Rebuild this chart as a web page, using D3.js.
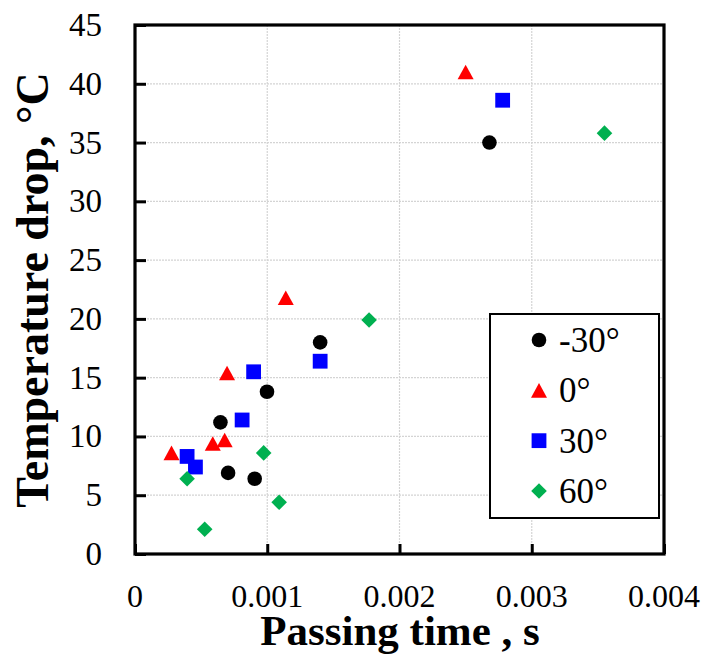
<!DOCTYPE html>
<html>
<head>
<meta charset="utf-8">
<script src="https://cdn.jsdelivr.net/npm/d3@7"></script>
<style>
  html, body { margin: 0; padding: 0; background: #fff; }
  svg { display: block; }
</style>
</head>
<body>
<svg id="chart" width="710" height="658"></svg>
<script>
// ---- Data ----
const seriesNames = ["-30°", "0°", "30°", "60°"];
const seriesColors = ["#000000", "#ff0000", "#0000ff", "#00b050"];
const seriesShapes = ["circle", "triangle", "square", "diamond"];

const timeM30 = [0.000646, 0.000704, 0.000905, 0.000998, 0.00140, 0.00268];
const dropM30 = [11.2, 6.9, 6.4, 13.8, 18.0, 35.0];

const time0 = [0.000276, 0.000588, 0.000678, 0.000696, 0.00114, 0.00250];
const drop0 = [8.6, 9.4, 9.7, 15.4, 21.8, 41.0];

const time30 = [0.000394, 0.000457, 0.000810, 0.000897, 0.00140, 0.00278];
const drop30 = [8.3, 7.4, 11.4, 15.5, 16.4, 38.6];

const time60 = [0.000394, 0.000527, 0.000973, 0.00109, 0.00177, 0.00355];
const drop60 = [6.4, 2.1, 8.6, 4.4, 19.9, 35.8];

const xTicks = [0, 0.001, 0.002, 0.003, 0.004];
const xTickLabels = ["0", "0.001", "0.002", "0.003", "0.004"];
const yTicks = [0, 5, 10, 15, 20, 25, 30, 35, 40, 45];

const xTitle = "Passing time , s";
const yTitle = "Temperature drop, °C";

const FONT = "'Liberation Serif', 'Times New Roman', Times, serif";

// ---- Build series table ----
const seriesTimes = [timeM30, time0, time30, time60];
const seriesDrops = [dropM30, drop0, drop30, drop60];
const series = seriesNames.map((name, i) => ({
  name, color: seriesColors[i], shape: seriesShapes[i],
  points: seriesTimes[i].map((t, j) => ({ t, d: seriesDrops[i][j] }))
}));

// ---- Layout ----
const svg = d3.select("#chart");
const L = 135, R = 664, T = 25, B = 554;

const x = d3.scaleLinear().domain([0, 0.004]).range([L, R]);
const y = d3.scaleLinear().domain([0, 45]).range([B, T]);

// Gridlines
const grid = svg.append("g");
grid.selectAll("line.gx").data(xTicks.slice(1, -1)).join("line")
  .attr("x1", d => x(d)).attr("x2", d => x(d))
  .attr("y1", T).attr("y2", B)
  .attr("stroke", "#d4d4d4").attr("stroke-width", 1.2)
  .attr("stroke-dasharray", "2,1");
grid.selectAll("line.gy").data(yTicks.slice(1, -1)).join("line")
  .attr("x1", L).attr("x2", R)
  .attr("y1", d => y(d)).attr("y2", d => y(d))
  .attr("stroke", "#d4d4d4").attr("stroke-width", 1.2)
  .attr("stroke-dasharray", "2,1");

// Axes (ticks inward)
const xAxis = d3.axisBottom(x).tickValues(xTicks).tickSize(-10).tickFormat(() => "");
const yAxis = d3.axisLeft(y).tickValues(yTicks).tickSize(-11).tickFormat(() => "");

const gx = svg.append("g").attr("transform", `translate(0,${B})`).call(xAxis);
const gy = svg.append("g").attr("transform", `translate(${L},0)`).call(yAxis);
[gx, gy].forEach(g => {
  g.select(".domain").remove();
  g.selectAll(".tick line").attr("stroke", "#000").attr("stroke-width", 3);
});

// Frame
svg.append("rect")
  .attr("x", L).attr("y", T).attr("width", R - L).attr("height", B - T)
  .attr("fill", "none").attr("stroke", "#000").attr("stroke-width", 3.2);

// Tick labels
svg.append("g").selectAll("text").data(xTicks).join("text")
  .attr("x", d => x(d)).attr("y", 607)
  .attr("text-anchor", "middle")
  .style("font-family", FONT)
  .attr("font-size", 32)
  .text((d, i) => xTickLabels[i]);

svg.append("g").selectAll("text").data(yTicks).join("text")
  .attr("x", 102).attr("y", d => y(d) + 11)
  .attr("text-anchor", "end")
  .style("font-family", FONT)
  .attr("font-size", 33)
  .text(d => d);

// Axis titles
svg.append("text")
  .attr("x", 400).attr("y", 645)
  .attr("text-anchor", "middle")
  .style("font-family", FONT)
  .attr("font-size", 43).attr("font-weight", "bold")
  .text(xTitle);

svg.append("text")
  .attr("transform", "translate(48,290) rotate(-90)")
  .attr("text-anchor", "middle")
  .style("font-family", FONT)
  .attr("font-size", 46).attr("font-weight", "bold")
  .text(yTitle);

// Marker path generator
function markerPath(shape) {
  switch (shape) {
    case "circle": return d3.symbol(d3.symbolCircle, Math.PI * 7.3 * 7.3)();
    case "square": return "M-7.4,-7.4H7.4V7.4H-7.4Z";
    case "triangle": return "M0,-7.3L8,7.3L-8,7.3Z";
    case "diamond": return "M0,-7.8L7.8,0L0,7.8L-7.8,0Z";
  }
}

// Points
const pts = svg.append("g");
series.forEach(s => {
  pts.append("g").selectAll("path").data(s.points).join("path")
    .attr("transform", d => `translate(${x(d.t)},${y(d.d)})`)
    .attr("d", markerPath(s.shape))
    .attr("fill", s.color);
});

// Legend
const lg = svg.append("g");
lg.append("rect")
  .attr("x", 490).attr("y", 314).attr("width", 169).attr("height", 204)
  .attr("fill", "#fff").attr("stroke", "#000").attr("stroke-width", 2);
const rowY = d3.scalePoint().domain(seriesNames).range([340, 491]);
series.forEach(s => {
  const yy = rowY(s.name);
  lg.append("path")
    .attr("transform", `translate(539,${yy})`)
    .attr("d", markerPath(s.shape))
    .attr("fill", s.color);
  lg.append("text")
    .attr("x", 559).attr("y", yy + 12)
    .style("font-family", FONT)
    .attr("font-size", 35)
    .text(s.name);
});
</script>
</body>
</html>
